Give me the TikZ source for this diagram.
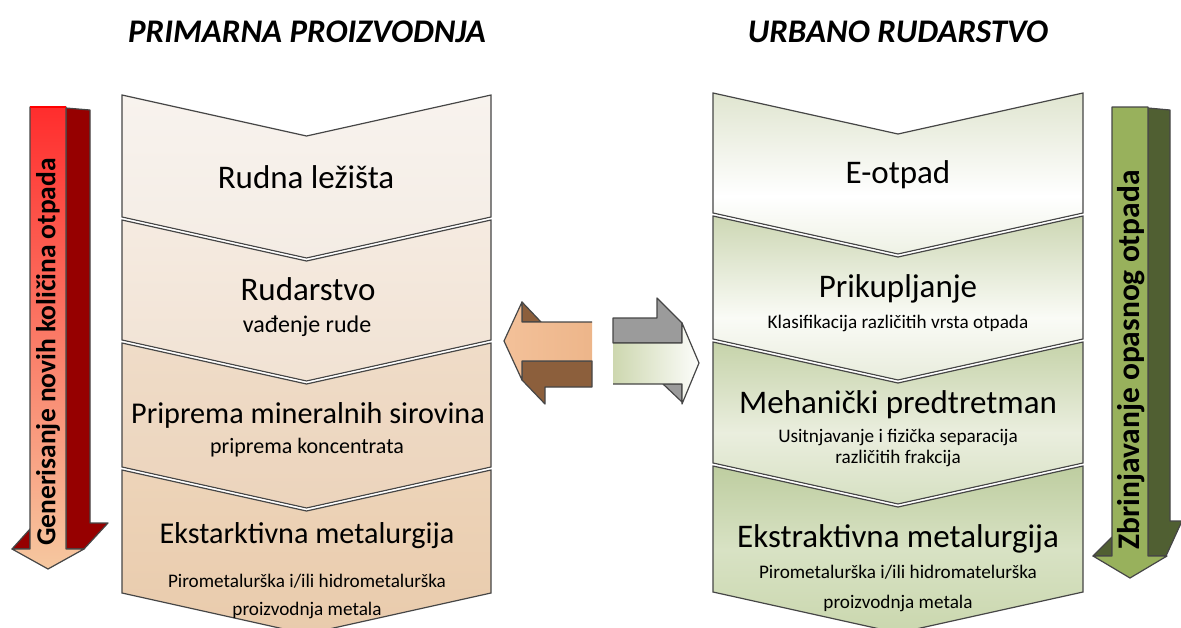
\documentclass[tikz,border=0pt]{standalone}
\usepackage{fontspec}
\setmainfont{Carlito}
\newcommand\chevp[4]{(#1,#3) -- ({(#1+#2)/2},{#3+41}) -- (#2,#3) -- (#2,#4) -- ({(#1+#2)/2},{#4+41}) -- (#1,#4) -- cycle}
\definecolor{edge}{RGB}{70,70,70}
\definecolor{lA1}{RGB}{248,243,238}\definecolor{lA2}{RGB}{244,236,228}
\definecolor{lB1}{RGB}{245,235,225}\definecolor{lB2}{RGB}{241,226,211}
\definecolor{lC1}{RGB}{239,220,200}\definecolor{lC2}{RGB}{236,212,188}
\definecolor{lD1}{RGB}{237,212,185}\definecolor{lD2}{RGB}{233,203,172}
\definecolor{redtop}{RGB}{255,45,45}\definecolor{redbot}{RGB}{246,200,160}
\definecolor{darkred}{RGB}{150,0,0}
\definecolor{olive}{RGB}{152,177,92}\definecolor{darkolive}{RGB}{80,95,50}
\definecolor{orangef}{RGB}{242,186,142}\definecolor{brownb}{RGB}{140,95,60}
\definecolor{grayb}{RGB}{155,155,155}\definecolor{greenf}{RGB}{205,215,175}
% right column shadings (25bp = bottom of path, 75bp = top of path)
\pgfdeclareverticalshading{rsA}{100bp}{color(0bp)=(rgb,255:red,238;green,241;blue,228); color(25bp)=(rgb,255:red,238;green,241;blue,228); color(43bp)=(white); color(75bp)=(rgb,255:red,224;green,229;blue,208); color(100bp)=(rgb,255:red,224;green,229;blue,208)}
\pgfdeclareverticalshading{rsB}{100bp}{color(0bp)=(rgb,255:red,232;green,236;blue,220); color(25bp)=(rgb,255:red,232;green,236;blue,220); color(44bp)=(rgb,255:red,250;green,251;blue,246); color(75bp)=(rgb,255:red,205;green,215;blue,180); color(100bp)=(rgb,255:red,205;green,215;blue,180)}
\pgfdeclareverticalshading{rsC}{100bp}{color(0bp)=(rgb,255:red,214;green,224;blue,194); color(25bp)=(rgb,255:red,214;green,224;blue,194); color(47bp)=(rgb,255:red,234;green,238;blue,222); color(75bp)=(rgb,255:red,198;green,211;blue,170); color(100bp)=(rgb,255:red,198;green,211;blue,170)}
\pgfdeclareverticalshading{rsD}{100bp}{color(0bp)=(rgb,255:red,202;green,215;blue,174); color(25bp)=(rgb,255:red,202;green,215;blue,174); color(50bp)=(rgb,255:red,216;green,226;blue,196); color(75bp)=(rgb,255:red,190;green,205;blue,160); color(100bp)=(rgb,255:red,190;green,205;blue,160)}
\tikzset{
  secbox/.style={draw=edge, line width=1.2pt, line join=miter,
    preaction={draw=white, line width=4pt}},
  arrowpart/.style={draw=edge, line width=1.2pt, line join=round},
  mainlbl/.style={font=\fontsize{30.2}{34}\selectfont, inner sep=0pt, anchor=base},
  bigmainlbl/.style={font=\fontsize{33}{36}\selectfont, inner sep=0pt, anchor=base},
  sublbl/.style={font=\fontsize{22}{25}\selectfont, inner sep=0pt, anchor=base},
  smalllbl/.style={font=\fontsize{19.2}{22}\selectfont, inner sep=0pt, anchor=base},
  titlelbl/.style={font=\fontsize{33}{36}\selectfont\bfseries\itshape, inner sep=0pt, anchor=base},
  sidelbl/.style={font=\fontsize{27.5}{31}\selectfont\bfseries, inner sep=0pt, rotate=90}
}
\begin{document}
\begin{tikzpicture}[x=1pt,y=-1pt]
\useasboundingbox (0,0) rectangle (1181,627);
% titles
\node[titlelbl] (tl) at (307,42) {PRIMARNA PROIZVODNJA};
\node[titlelbl] (tr) at (898,42) {URBANO RUDARSTVO};
% left column
\path[secbox, top color=lA1, bottom color=lA2] \chevp{122}{491}{95}{217};
\path[secbox, top color=lB1, bottom color=lB2] \chevp{122}{491}{220}{340};
\path[secbox, top color=lC1, bottom color=lC2] \chevp{122}{491}{343}{467};
\path[secbox, top color=lD1, bottom color=lD2] \chevp{122}{491}{470}{593};
% right column
\path[secbox, shading=rsA] \chevp{713}{1083}{93}{213};
\path[secbox, shading=rsB] \chevp{713}{1083}{216}{339};
\path[secbox, shading=rsC] \chevp{713}{1083}{342}{463};
\path[secbox, shading=rsD] \chevp{713}{1083}{466}{592};
% left labels
\node[bigmainlbl] (l1) at (306,188) {Rudna ležišta};
\node[bigmainlbl] (l2) at (308,300) {Rudarstvo};
\node[sublbl, font=\fontsize{24}{27}\selectfont] (l2s) at (307,332) {vađenje rude};
\node[mainlbl] (l3) at (308,423) {Priprema mineralnih sirovina};
\node[sublbl] (l3s) at (307,453) {priprema koncentrata};
\node[mainlbl] (l4) at (307,543) {Ekstarktivna metalurgija};
\node[smalllbl] (l4s) at (307,587) {Pirometalurška i/ili hidrometalurška};
\node[smalllbl] (l4t) at (307,615) {proizvodnja metala};
% right labels
\node[bigmainlbl] (r1) at (898,183) {E-otpad};
\node[bigmainlbl] (r2) at (898,297) {Prikupljanje};
\node[smalllbl] (r2s) at (898,328) {Klasifikacija različitih vrsta otpada};
\node[bigmainlbl] (r3) at (898,413) {Mehanički predtretman};
\node[smalllbl] (r3s) at (898,442) {Usitnjavanje i fizička separacija};
\node[smalllbl] (r3t) at (898,463) {različitih frakcija};
\node[bigmainlbl] (r4) at (898,547) {Ekstraktivna metalurgija};
\node[smalllbl] (r4s) at (898,578) {Pirometalurška i/ili hidromatelurška};
\node[smalllbl] (r4t) at (898,608) {proizvodnja metala};
% left vertical 3D arrow
\path[arrowpart, fill=darkred] (66,108) -- (90,110) -- (90,523) -- (108,523) -- (84,549) -- (66,549) -- cycle;
\path[arrowpart, fill=darkred] (12,549) -- (30,529) -- (30,549) -- cycle;
\path[arrowpart, top color=redtop, bottom color=redbot] (30,107) -- (66,107) -- (66,549) -- (84,549) -- (48,569) -- (12,549) -- (30,549) -- cycle;
\draw[red, line width=2pt] (30,107) -- (66,107);
\node[sidelbl] (gl) at (48,352) {Generisanje novih količina otpada};
% right vertical 3D arrow
\path[arrowpart, fill=darkolive] (1148,108) -- (1170,110) -- (1170,521) -- (1182,521) -- (1166,556) -- (1148,556) -- cycle;
\path[arrowpart, fill=darkolive] (1093,556) -- (1112,537) -- (1112,556) -- cycle;
\path[arrowpart, fill=olive] (1112,107) -- (1148,107) -- (1148,556) -- (1167,556) -- (1130,578) -- (1093,556) -- (1112,556) -- cycle;
\node[sidelbl, font=\fontsize{31.5}{34}\selectfont\bfseries] (gr) at (1131,360) {Zbrinjavanje opasnog otpada};
% middle left-pointing arrow
\path[arrowpart, fill=brownb] (522,302) -- (541,322) -- (522,322) -- cycle;
\path[arrowpart, fill=brownb] (522,361) -- (592,361) -- (592,387) -- (545,387) -- (545,404) -- (522,380) -- cycle;
\path[left color=orangef!90!white, right color=orangef!95!brownb] (504,341) -- (522,302) -- (522,322) -- (592,322) -- (592,361) -- (522,361) -- (522,380) -- cycle;
\draw[edge, line width=1.2pt, line join=round] (592,322) -- (522,322) -- (522,302) -- (504,341) -- (522,380) -- (522,361) -- (592,361);
% middle right-pointing arrow
\path[arrowpart, fill=grayb] (613,318) -- (657,318) -- (657,298) -- (682,323) -- (682,343) -- (613,343) -- cycle;
\path[arrowpart, fill=grayb] (663,384) -- (682,384) -- (682,402) -- cycle;
\path[left color=greenf, right color=white!95!greenf] (613,343) -- (682,343) -- (682,323) -- (699,363) -- (682,404) -- (682,384) -- (613,384) -- cycle;
\draw[edge, line width=1.2pt, line join=round] (613,343) -- (682,343) -- (682,323) -- (699,363) -- (682,404) -- (682,384) -- (613,384);
\end{tikzpicture}
\end{document}
